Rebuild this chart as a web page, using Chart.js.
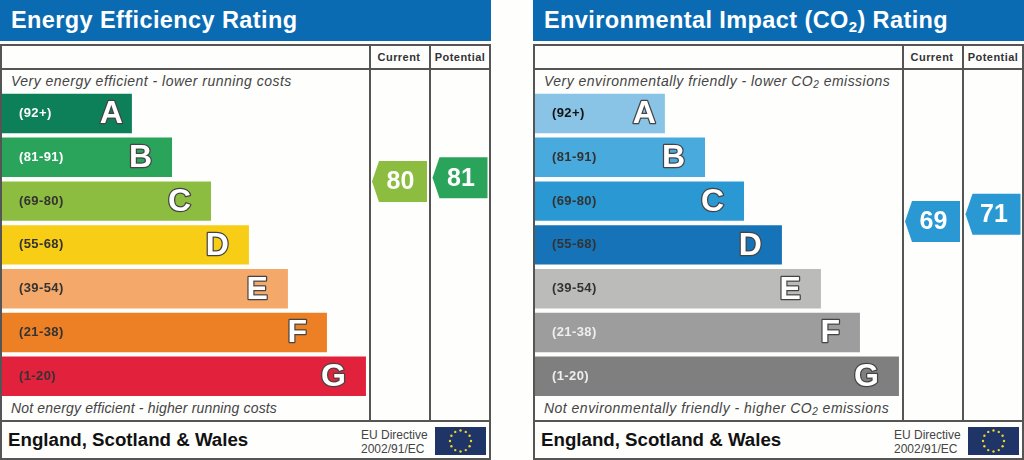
<!DOCTYPE html>
<html>
<head>
<meta charset="utf-8">
<title>Energy and Environmental Ratings</title>
<script src="https://cdn.jsdelivr.net/npm/chart.js@4"></script>
<style>
    html, body { margin: 0; padding: 0; background: #fefefd; }
    body { width: 1024px; height: 460px; overflow: hidden; position: relative; font-family: "Liberation Sans", Arial, sans-serif; }
    .panel { position: absolute; top: 0; width: 491px; height: 460px; }
    .panel canvas { position: absolute; left: 0; top: 0; }
    .title { position: absolute; left: 0; top: 0; width: 491px; height: 41px; background: #0a6bb3; color: #fff; font-weight: bold; font-size: 23.5px; line-height: 41px; letter-spacing: 0.4px; text-indent: 11px; white-space: nowrap; }
    .title sub { font-size: 15px; line-height: 0; vertical-align: -4px; }
    .frame { position: absolute; left: 0; top: 44px; width: 491px; height: 416px; box-sizing: border-box; border: 2px solid #555; }
    .rule { position: absolute; background: #555; }
    .col { position: absolute; top: 51px; width: 60px; text-align: center; font-weight: bold; font-size: 11px; line-height: 13px; color: #333; letter-spacing: 0.45px; }
    .note { position: absolute; left: 11px; font-style: italic; font-size: 14px; line-height: 16px; color: #444; letter-spacing: 0.48px; white-space: nowrap; }
    .note sub { font-size: 10px; line-height: 0; vertical-align: -2px; }
    .region { position: absolute; left: 8px; top: 429px; font-weight: bold; font-size: 18.7px; line-height: 21px; color: #111; white-space: nowrap; }
    .directive { position: absolute; left: 361px; top: 427.5px; font-size: 12px; line-height: 14px; color: #444; white-space: nowrap; }
</style>
</head>
<body>
<div class="panel" style="left:0">
    <div class="title">Energy Efficiency Rating</div>
    <div class="frame"></div>
    <div class="rule" style="left:0;top:68px;width:491px;height:2px"></div>
    <div class="rule" style="left:369px;top:44px;width:2px;height:376px"></div>
    <div class="rule" style="left:429px;top:44px;width:2px;height:376px"></div>
    <div class="rule" style="left:0;top:420px;width:491px;height:2px"></div>
    <div class="col" style="left:369px">Current</div>
    <div class="col" style="left:430px">Potential</div>
    <div class="note" style="top:73px">Very energy efficient - lower running costs</div>
    <div class="note" style="top:400px;letter-spacing:0.16px">Not energy efficient - higher running costs</div>
    <div class="region">England, Scotland &amp; Wales</div>
    <div class="directive">EU Directive<br>2002/91/EC</div>
    <canvas id="energyChart" width="491" height="460"></canvas>
</div>
<div class="panel" style="left:533px">
    <div class="title">Environmental Impact (CO<sub>2</sub>) Rating</div>
    <div class="frame"></div>
    <div class="rule" style="left:0;top:68px;width:491px;height:2px"></div>
    <div class="rule" style="left:369px;top:44px;width:2px;height:376px"></div>
    <div class="rule" style="left:429px;top:44px;width:2px;height:376px"></div>
    <div class="rule" style="left:0;top:420px;width:491px;height:2px"></div>
    <div class="col" style="left:369px">Current</div>
    <div class="col" style="left:430px">Potential</div>
    <div class="note" style="top:73px">Very environmentally friendly - lower CO<sub>2</sub> emissions</div>
    <div class="note" style="top:400px">Not environmentally friendly - higher CO<sub>2</sub> emissions</div>
    <div class="region">England, Scotland &amp; Wales</div>
    <div class="directive">EU Directive<br>2002/91/EC</div>
    <canvas id="impactChart" width="491" height="460"></canvas>
</div>

<script>
// Chart data
const bandLetters = ['A', 'B', 'C', 'D', 'E', 'F', 'G'];
const bandRanges = ['(92+)', '(81-91)', '(69-80)', '(55-68)', '(39-54)', '(21-38)', '(1-20)'];
const bandLengths = [35.3, 46.2, 56.8, 67.1, 77.7, 88.3, 98.9]; // % of the band column
const energyScores = [80, 81];
const impactScores = [69, 71];

const energyColors = ['#0d8059', '#2aa45b', '#8dbd40', '#f8cd15', '#f4a96b', '#ed8025', '#e2213d'];
const impactColors = ['#89c4e6', '#49aade', '#2a98d2', '#1773b8', '#bbbbb9', '#9d9d9d', '#7f7f7f'];
const energyLabelColors = ['#fff', '#fff', '#333', '#333', '#333', '#333', '#333'];
const impactLabelColors = ['#111', '#333', '#333', '#333', '#333', '#eee', '#eee'];

// Plot layout inside each panel (px)
const PLOT = { left: 2, right: 490, top: 91.6, bottom: 398.2, bandRight: 370 };
const COLUMN_X = [399.5, 460];
const RATING_80_Y = 181.5;
const RATING_STEP = 3.64;

// Which band a score falls in, used for the arrow colour
function bandIndexFor(score) {
    const floors = bandRanges.map(function(r) { return parseInt(r.slice(1), 10); });
    return floors.findIndex(function(f) { return score >= f; });
}

function drawFlag(ctx) {
    const x = 435, y = 427, w = 51, h = 28;
    ctx.fillStyle = '#1f3567';
    ctx.fillRect(x, y, w, h);
    ctx.fillStyle = '#f5d327';
    for (let i = 0; i < 12; i++) {
        const a = i * Math.PI / 6;
        ctx.beginPath();
        ctx.arc(x + w / 2 + Math.cos(a) * 10.5, y + h / 2 + Math.sin(a) * 10.5, 1.2, 0, Math.PI * 2);
        ctx.fill();
    }
}

// Draws band texts, the score arrows and the flag on top of the library's marks
function ratingOverlay(labelColors, colors, scores) {
    return {
        id: 'ratingOverlay',
        afterDatasetsDraw: function(chart) {
            const ctx = chart.ctx;
            const bars = chart.getDatasetMeta(0).data;
            const arrows = chart.getDatasetMeta(1).data;
            ctx.save();
            ctx.textBaseline = 'middle';

            bars.forEach(function(bar, i) {
                ctx.textAlign = 'left';
                ctx.font = 'bold 13px "Liberation Sans"';
                ctx.letterSpacing = '0.4px';
                ctx.fillStyle = labelColors[i];
                ctx.fillText(bandRanges[i], 19, bar.y);
                ctx.letterSpacing = '0px';

                const inset = i === 0 ? 9 : 20;
                ctx.textAlign = 'right';
                ctx.font = 'bold 32px "Liberation Sans"';
                ctx.lineJoin = 'round';
                ctx.lineWidth = 2.5;
                ctx.strokeStyle = '#444';
                ctx.strokeText(bandLetters[i], bar.x - inset, bar.y + 1);
                ctx.fillStyle = '#fff';
                ctx.fillText(bandLetters[i], bar.x - inset, bar.y + 1);
            });

            arrows.forEach(function(pt, i) {
                const l = pt.x - 27.5, r = pt.x + 27.5, t = pt.y - 20.5, b = pt.y + 20.5;
                ctx.fillStyle = colors[bandIndexFor(scores[i])];
                ctx.beginPath();
                ctx.moveTo(l + 7, t);
                ctx.lineTo(r, t);
                ctx.lineTo(r, b);
                ctx.lineTo(l + 7, b);
                ctx.lineTo(l, pt.y);
                ctx.closePath();
                ctx.fill();
                ctx.fillStyle = '#fff';
                ctx.textAlign = 'center';
                ctx.font = 'bold 25px "Liberation Sans"';
                ctx.fillText(String(scores[i]), pt.x + 1, pt.y + 1);
            });

            drawFlag(ctx);
            ctx.restore();
        }
    };
}

function initializeRatingChart(canvasId, colors, labelColors, scores) {
    const ctx = document.getElementById(canvasId);
    if (!ctx) return;

    const plotWidth = PLOT.right - PLOT.left;
    const columnStep = COLUMN_X[1] - COLUMN_X[0];

    new Chart(ctx, {
        type: 'bar',
        data: {
            labels: bandLetters,
            datasets: [{
                data: bandLengths,
                backgroundColor: colors,
                borderWidth: 0,
                grouped: false,
                barPercentage: 1,
                categoryPercentage: 0.9,
                xAxisID: 'x',
                yAxisID: 'y'
            }, {
                type: 'scatter',
                indexAxis: 'x',
                data: scores.map(function(s, i) { return { x: i, y: s }; }),
                pointRadius: 0,
                xAxisID: 'column',
                yAxisID: 'rating'
            }]
        },
        options: {
            indexAxis: 'y',
            responsive: false,
            animation: false,
            layout: {
                padding: { left: PLOT.left, right: 491 - PLOT.right, top: PLOT.top, bottom: 460 - PLOT.bottom }
            },
            plugins: { legend: { display: false }, tooltip: { enabled: false } },
            scales: {
                x: { type: 'linear', display: false, bounds: 'data', min: 0, max: 100 * plotWidth / (PLOT.bandRight - PLOT.left) },
                y: { type: 'category', display: false, offset: true },
                column: {
                    type: 'linear', axis: 'x', display: false, bounds: 'data', offset: false,
                    min: (PLOT.left - COLUMN_X[0]) / columnStep,
                    max: (PLOT.right - COLUMN_X[0]) / columnStep
                },
                // offset has to be off here, the bar defaults turn it on for extra y axes
                rating: {
                    type: 'linear', axis: 'y', display: false, bounds: 'data', offset: false,
                    min: 80 - (PLOT.bottom - RATING_80_Y) / RATING_STEP,
                    max: 80 + (RATING_80_Y - PLOT.top) / RATING_STEP
                }
            }
        },
        plugins: [ratingOverlay(labelColors, colors, scores)]
    });
}

initializeRatingChart('energyChart', energyColors, energyLabelColors, energyScores);
initializeRatingChart('impactChart', impactColors, impactLabelColors, impactScores);
</script>
</body>
</html>
